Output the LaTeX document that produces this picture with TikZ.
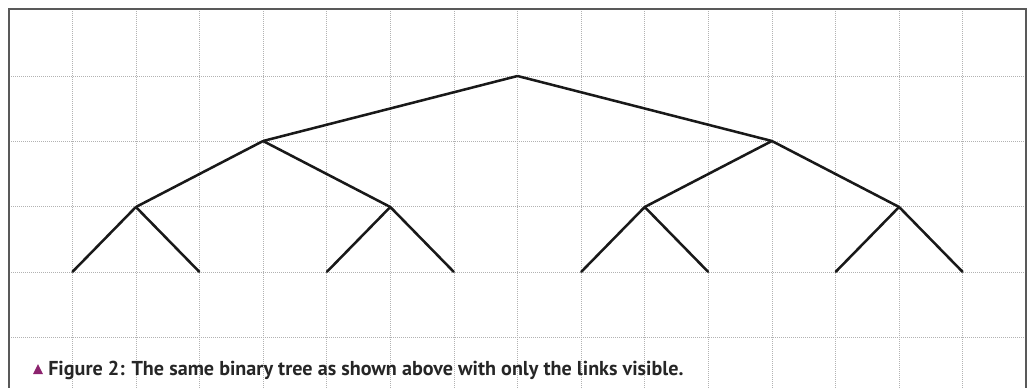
\documentclass[tikz,border=0pt]{standalone}
\usepackage{fontspec}
\setmainfont{PT Sans}
\begin{document}
\begin{tikzpicture}[x=0.75pt,y=-0.75pt,
  gridline/.style={draw=black!30,line width=0.6pt,dash pattern=on 0.75pt off 0.75pt},
  frameline/.style={draw=black!65,line width=1.2pt},
  link/.style={draw=black!90,line width=1.9pt,line cap=round,line join=round},
  vert/.style={inner sep=0pt,minimum size=0pt}]
\useasboundingbox (0,0) rectangle (1027,388);
% background grid
\foreach \k in {0,...,14}
  \draw[gridline] ({72.3+63.6*\k},9) -- ({72.3+63.6*\k},388);
\foreach \r in {0,...,4}
  \draw[gridline] (9,{76+65.4*\r}) -- (1026,{76+65.4*\r});
% frame, open at the bottom
\draw[frameline] (9,388) -- (9,9) -- (1026,9) -- (1026,388);
% tree vertices
\newcommand{\gx}[1]{72.3+63.6*#1}
\node[vert] (r) at ({\gx{7}},76) {};
\node[vert] (a) at ({\gx{3}},141) {};
\node[vert] (b) at ({\gx{11}},141) {};
\node[vert] (aa) at ({\gx{1}},207) {};
\node[vert] (ab) at ({\gx{5}},207) {};
\node[vert] (ba) at ({\gx{9}},207) {};
\node[vert] (bb) at ({\gx{13}},207) {};
\foreach \n/\k in {l0/0,l1/2,l2/4,l3/6,l4/8,l5/10,l6/12,l7/14}
  \node[vert] (\n) at ({\gx{\k}},272) {};
% links
\draw[link] (a) -- (r) -- (b);
\draw[link] (aa) -- (a) -- (ab);
\draw[link] (ba) -- (b) -- (bb);
\draw[link] (l0) -- (aa) -- (l1);
\draw[link] (l2) -- (ab) -- (l3);
\draw[link] (l4) -- (ba) -- (l5);
\draw[link] (l6) -- (bb) -- (l7);
% caption
\node[anchor=base west,inner sep=0pt,font=\bfseries\fontsize{15.1}{18}\selectfont,text=black!85] (cap) at (48,375.5)
  {Figure 2: The same binary tree as shown above with only the links visible.};
\fill[color={rgb,255:red,140;green,35;blue,110}] (33,374) -- (43,374) -- (38,364) -- cycle;
\end{tikzpicture}
\end{document}
